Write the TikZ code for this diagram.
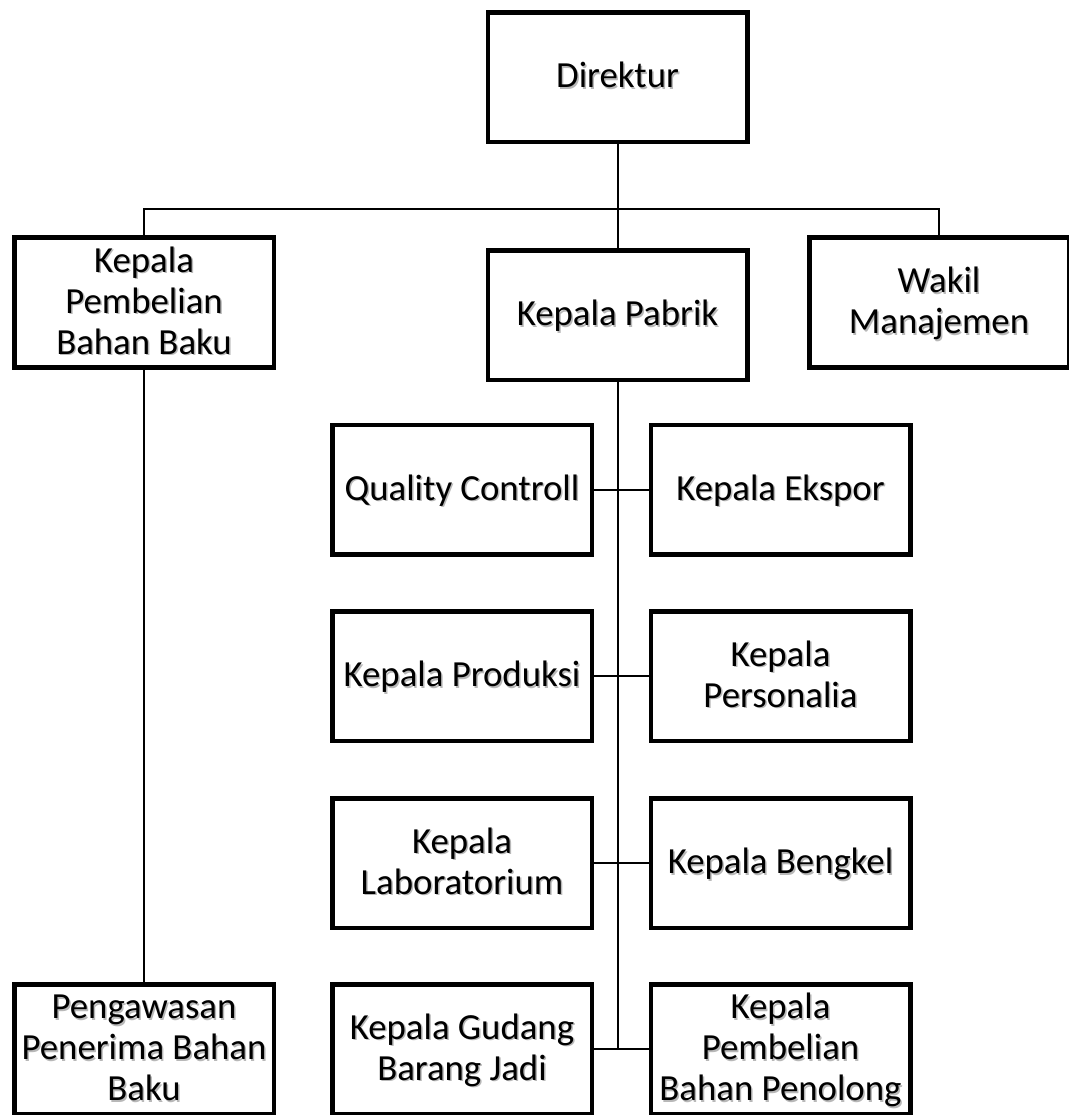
\documentclass[tikz,border=0pt]{standalone}
\usepackage{fontspec}
\setmainfont{Carlito}
\newcommand\shtxt[1]{\rule{0pt}{33.3pt}\makebox[0pt][l]{\smash{\hspace{1.5pt}\raisebox{-1.5pt}{\color{black!28}\begin{tabular}[t]{@{}c@{}}#1\end{tabular}}}}\begin{tabular}[t]{@{}c@{}}#1\end{tabular}}
\begin{document}
\begin{tikzpicture}[x=1pt,y=-1pt,
  box/.style={draw=black,line width=4.5pt,minimum width=259.5pt,minimum height=129.5pt,
    inner sep=0pt,font=\fontsize{36.8}{41}\selectfont},
  link/.style={draw=black,line width=2pt}]
\useasboundingbox (0,0) rectangle (1068,1115);
\node[box] (dir) at (617.5,77.5) {\shtxt{Direktur}};
\node[box] (kpb) at (144,302.5) {\shtxt{Kepala\\Pembelian\\Bahan Baku}};
\node[box] (pabrik) at (617.5,315) {\shtxt{Kepala Pabrik}};
\node[box] (wakil) at (939,302.5) {\shtxt{Wakil\\Manajemen}};
\node[box] (qc) at (462,489.5) {\shtxt{Quality Controll}};
\node[box] (ekspor) at (780.5,489.5) {\shtxt{Kepala Ekspor}};
\node[box] (produksi) at (462,676) {\shtxt{Kepala Produksi}};
\node[box] (personalia) at (780.5,676) {\shtxt{Kepala\\Personalia}};
\node[box] (lab) at (462,863) {\shtxt{Kepala\\Laboratorium}};
\node[box] (bengkel) at (780.5,863) {\shtxt{Kepala Bengkel}};
\node[box] (gudang) at (462,1049) {\shtxt{Kepala Gudang\\Barang Jadi}};
\node[box] (penolong) at (780.5,1049) {\shtxt{Kepala\\Pembelian\\Bahan Penolong}};
\node[box] (peng) at (144,1049) {\shtxt{Pengawasan\\Penerima Bahan\\Baku}};
\coordinate (bus) at (617.5,209);
\coordinate (spineend) at (617.5,1049);
\draw[link] (dir.south) -- (bus);
\draw[link] (kpb.north) |- (bus) -| (wakil.north);
\draw[link] (bus) -- (pabrik.north);
\draw[link] (pabrik.south) -- (spineend);
\draw[link] (qc.east) -- (ekspor.west);
\draw[link] (produksi.east) -- (personalia.west);
\draw[link] (lab.east) -- (bengkel.west);
\draw[link] (gudang.east) -- (penolong.west);
\draw[link] (kpb.south) -- (peng.north);
\end{tikzpicture}
\end{document}
